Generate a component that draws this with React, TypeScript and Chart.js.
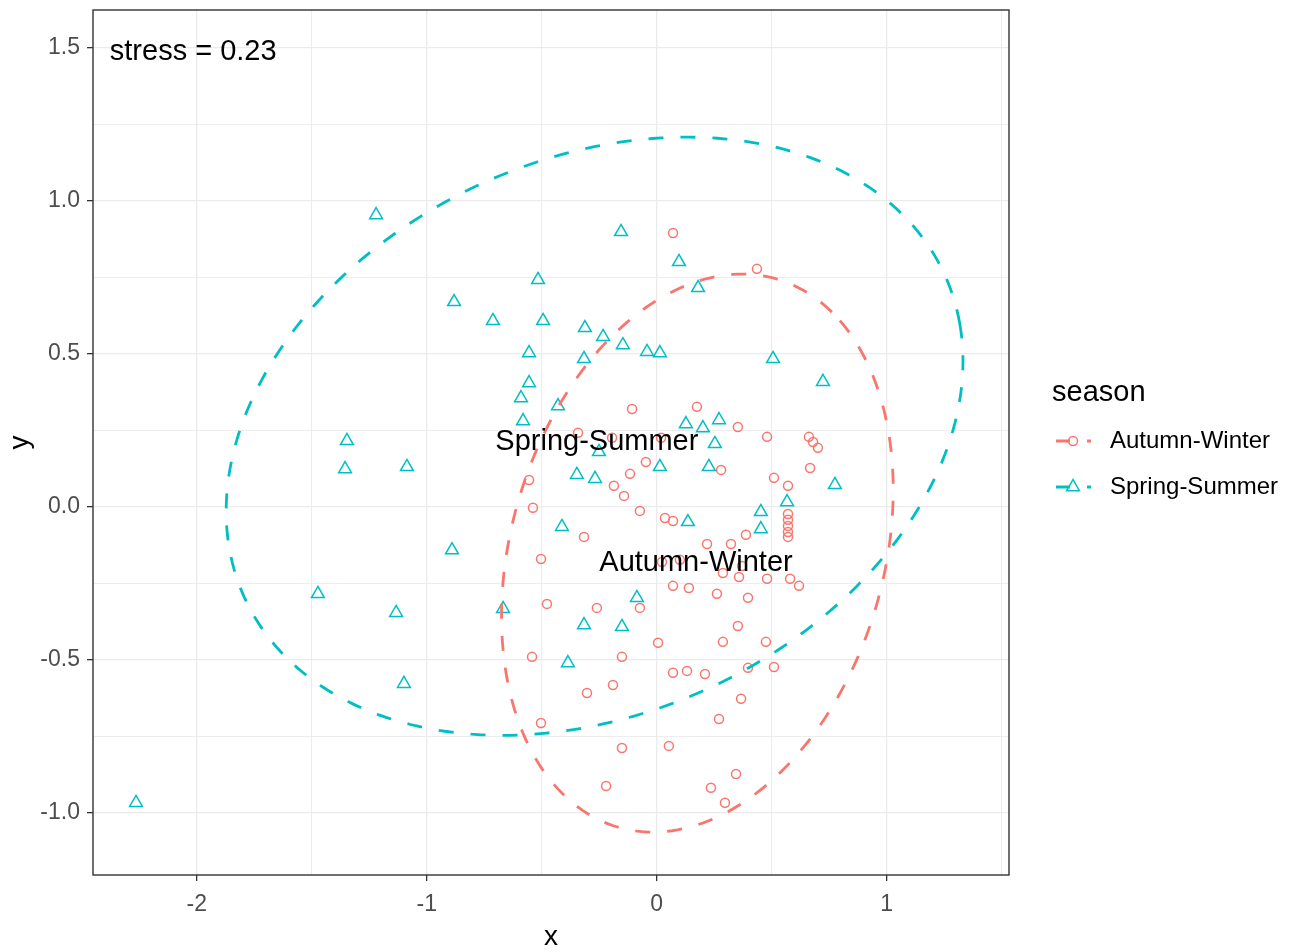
import React, { useEffect, useRef } from "react";
import { Chart, registerables } from "chart.js";

Chart.register(...registerables);

// ---------- data ----------
const seasons = ["Autumn-Winter", "Spring-Summer"];
const seasonColors = ["#F8766D", "#00BFC4"];

const autumnWinterX = [
  0.071, 0.436, -0.107, 0.175, 0.353, 0.48, 0.662, 0.68, 0.701, -0.342,
  0.019, -0.194, -0.047, -0.116, -0.186, -0.142, -0.555, -0.538, -0.073, 0.036,
  0.071, 0.28, 0.667, 0.51, 0.571, 0.571, 0.571, 0.571, 0.571, 0.571,
  0.388, -0.316, 0.219, 0.323, -0.503, 0.023, 0.101, 0.371, 0.288, 0.358,
  0.48, 0.58, 0.619, 0.071, 0.14, 0.262, 0.397, -0.477, -0.26, -0.073,
  0.353, 0.006, 0.288, 0.475, -0.542, -0.151, 0.51, 0.397, 0.071, 0.132,
  0.21, -0.19, -0.303, 0.367, 0.271, -0.503, -0.151, 0.053, 0.345, -0.22,
  0.236, 0.297,
];
const autumnWinterY = [
  0.894, 0.777, 0.319, 0.326, 0.26, 0.228, 0.228, 0.211, 0.192, 0.241,
  0.225, 0.225, 0.146, 0.107, 0.068, 0.035, 0.087, -0.004, -0.014, -0.037,
  -0.047, 0.12, 0.126, 0.094, 0.068, -0.024, -0.043, -0.063, -0.083, -0.099,
  -0.092, -0.099, -0.122, -0.122, -0.171, -0.181, -0.174, -0.194, -0.217, -0.23,
  -0.236, -0.236, -0.259, -0.259, -0.266, -0.285, -0.298, -0.318, -0.331, -0.331,
  -0.39, -0.445, -0.442, -0.442, -0.491, -0.491, -0.524, -0.527, -0.543, -0.537,
  -0.547, -0.583, -0.609, -0.628, -0.694, -0.707, -0.789, -0.782, -0.874, -0.913,
  -0.919, -0.968,
];

const springSummerX = [
  -1.22, -0.155, 0.097, 0.18, -0.516, -0.881, -0.712, -0.494, -0.312, -0.233,
  -0.147, -0.042, 0.014, -0.316, -0.555, 0.506, 0.723, -0.555, -0.59, -0.429,
  -0.581, 0.127, 0.201, 0.271, 0.253, -1.347, -1.355, -1.086, -0.251, 0.014,
  0.227, -0.347, -0.268, 0.775, 0.567, 0.453, 0.453, 0.136, -0.412, -0.89,
  -1.473, -0.668, -0.086, -1.133, -0.316, -0.151, -0.386, -1.099, -2.264,
];
const springSummerY = [
  0.953, 0.898, 0.8, 0.715, 0.741, 0.669, 0.607, 0.607, 0.584, 0.555,
  0.528, 0.506, 0.502, 0.483, 0.502, 0.483, 0.408, 0.404, 0.355, 0.329,
  0.28, 0.27, 0.257, 0.283, 0.205, 0.215, 0.123, 0.13, 0.179, 0.13,
  0.13, 0.104, 0.091, 0.071, 0.015, -0.017, -0.073, -0.05, -0.066, -0.142,
  -0.285, -0.334, -0.298, -0.347, -0.387, -0.393, -0.511, -0.579, -0.968,
];

// 95% ellipses (data units)
const ellipseCenterX = [0.177, -0.27];
const ellipseCenterY = [-0.152, 0.23];
const ellipseSemiMajor = [0.981, 1.63];
const ellipseSemiMinor = [0.771, 0.93];
const ellipseAngleDeg = [53.4, 13];

// group labels (data units)
const groupLabelX = [0.171, -0.26];
const groupLabelY = [-0.183, 0.21];

const stressLabel = "stress = 0.23";
const stressX = -2.378;
const stressY = 1.486;

const xLimits = [-2.451, 1.532];
const yLimits = [-1.204, 1.623];
const xBreaks = [-2, -1.5, -1, -0.5, 0, 0.5, 1, 1.5];
const xMajorBreaks = [-2, -1, 0, 1];
const xTickLabels = ["-2", "-1", "0", "1"];
const yBreaks = [-1, -0.75, -0.5, -0.25, 0, 0.25, 0.5, 0.75, 1, 1.25, 1.5];
const yMajorBreaks = [-1, -0.5, 0, 0.5, 1, 1.5];
const yTickLabels = ["-1.0", "-0.5", "0.0", "0.5", "1.0", "1.5"];

const FONT = "'Liberation Sans', Arial, sans-serif";

function ellipsePoints(i: number) {
  const pts: { x: number; y: number }[] = [];
  const n = 240;
  const th = (ellipseAngleDeg[i] * Math.PI) / 180;
  for (let k = 0; k <= n; k++) {
    const t = (2 * Math.PI * k) / n;
    const a = ellipseSemiMajor[i] * Math.cos(t);
    const b = ellipseSemiMinor[i] * Math.sin(t);
    pts.push({
      x: ellipseCenterX[i] + a * Math.cos(th) - b * Math.sin(th),
      y: ellipseCenterY[i] + a * Math.sin(th) + b * Math.cos(th),
    });
  }
  return pts;
}

function isIn(arr: number[], v: number) {
  return arr.some((a) => Math.abs(a - v) < 1e-9);
}

function drawMarker(ctx: CanvasRenderingContext2D, kind: number, x: number, y: number, color: string) {
  ctx.save();
  ctx.strokeStyle = color;
  ctx.lineWidth = 1.5;
  ctx.beginPath();
  if (kind === 0) {
    ctx.arc(x, y, 4.5, 0, Math.PI * 2);
  } else {
    const r = 7.4;
    ctx.moveTo(x, y - r);
    ctx.lineTo(x + r * Math.sin(Math.PI / 3), y + r * 0.5);
    ctx.lineTo(x - r * Math.sin(Math.PI / 3), y + r * 0.5);
    ctx.closePath();
  }
  ctx.stroke();
  ctx.restore();
}

const decorPlugin = {
  id: "decor",
  beforeDraw(chart: any) {
    const ctx = chart.ctx;
    ctx.save();
    ctx.fillStyle = "#FFFFFF";
    ctx.fillRect(0, 0, chart.width, chart.height);
    ctx.restore();
  },
  afterDatasetsDraw(chart: any) {
    const ctx: CanvasRenderingContext2D = chart.ctx;
    const xs = chart.scales.x;
    const ys = chart.scales.y;
    const area = chart.chartArea;
    ctx.save();
    // group labels
    ctx.fillStyle = "#000000";
    ctx.font = `29px ${FONT}`;
    ctx.textAlign = "center";
    ctx.textBaseline = "middle";
    for (let i = 0; i < seasons.length; i++) {
      ctx.fillText(seasons[i], xs.getPixelForValue(groupLabelX[i]), ys.getPixelForValue(groupLabelY[i]));
    }
    // stress annotation
    ctx.textAlign = "left";
    ctx.fillText(stressLabel, xs.getPixelForValue(stressX), ys.getPixelForValue(stressY));
    // panel border
    ctx.strokeStyle = "#333333";
    ctx.lineWidth = 1.4;
    ctx.strokeRect(area.left, area.top, area.right - area.left, area.bottom - area.top);
    // axis titles
    ctx.fillStyle = "#000000";
    ctx.font = `28px ${FONT}`;
    ctx.textAlign = "center";
    ctx.textBaseline = "middle";
    ctx.fillText("x", (area.left + area.right) / 2, 937);
    ctx.save();
    ctx.translate(20, (area.top + area.bottom) / 2);
    ctx.rotate(-Math.PI / 2);
    ctx.fillText("y", 0, 0);
    ctx.restore();
    // legend
    ctx.textAlign = "left";
    ctx.font = `29px ${FONT}`;
    ctx.fillText("season", 1052, 393);
    const rowY = [441, 487];
    for (let i = 0; i < seasons.length; i++) {
      const y = rowY[i];
      ctx.save();
      ctx.strokeStyle = seasonColors[i];
      ctx.lineWidth = 2.8;
      ctx.setLineDash([14, 17]);
      ctx.beginPath();
      ctx.moveTo(1056, y);
      ctx.lineTo(1091, y);
      ctx.stroke();
      ctx.restore();
      drawMarker(ctx, i, 1073, y, seasonColors[i]);
      ctx.fillStyle = "#000000";
      ctx.font = `24px ${FONT}`;
      ctx.textBaseline = "middle";
      ctx.fillText(seasons[i], 1110, y);
    }
    ctx.restore();
  },
};

export default function App() {
  const ref = useRef<HTMLCanvasElement | null>(null);
  useEffect(() => {
    if (!ref.current) return;
    const gridColor = "#EBEBEB";
    const chart = new Chart(ref.current, {
      type: "scatter",
      data: {
        datasets: [
          {
            label: seasons[1] + " ellipse",
            data: ellipsePoints(1),
            showLine: true,
            borderColor: seasonColors[1],
            borderWidth: 2.8,
            borderDash: [15, 17],
            pointRadius: 0,
            fill: false,
            tension: 0,
            order: 0,
          },
          {
            label: seasons[0] + " ellipse",
            data: ellipsePoints(0),
            showLine: true,
            borderColor: seasonColors[0],
            borderWidth: 2.8,
            borderDash: [15, 17],
            pointRadius: 0,
            fill: false,
            tension: 0,
            order: 1,
          },
          {
            label: seasons[1],
            data: springSummerX.map((x, i) => ({ x, y: springSummerY[i] })),
            pointStyle: "triangle",
            pointRadius: 7.4,
            borderWidth: 1.5,
            borderColor: seasonColors[1],
            backgroundColor: "rgba(0,0,0,0)",
            order: 2,
          },
          {
            label: seasons[0],
            data: autumnWinterX.map((x, i) => ({ x, y: autumnWinterY[i] })),
            pointStyle: "circle",
            pointRadius: 4.5,
            borderWidth: 1.5,
            borderColor: seasonColors[0],
            backgroundColor: "rgba(0,0,0,0)",
            order: 3,
          },
        ],
      },
      options: {
        animation: false,
        responsive: false,
        events: [],
        layout: { padding: { left: 0, top: 10, right: 283, bottom: 0 } },
        plugins: { legend: { display: false }, tooltip: { enabled: false } },
        scales: {
          x: {
            type: "linear",
            min: xLimits[0],
            max: xLimits[1],
            afterBuildTicks: (scale: any) => {
              scale.ticks = xBreaks.map((v) => ({ value: v }));
            },
            afterFit: (scale: any) => {
              scale.height = 77;
              scale.paddingLeft = 0;
              scale.paddingRight = 0;
            },
            border: { display: false },
            grid: {
              color: gridColor,
              lineWidth: (c: any) => (isIn(xMajorBreaks, c.tick?.value) ? 1.3 : 0.9),
              drawTicks: true,
              tickLength: 6,
              tickWidth: 1.3,
              tickColor: (c: any) => (isIn(xMajorBreaks, c.tick?.value) ? "#333333" : "rgba(0,0,0,0)"),
            },
            ticks: {
              autoSkip: false,
              maxRotation: 0,
              padding: 10,
              color: "#4D4D4D",
              font: { family: FONT, size: 23 },
              callback: (v: any) => {
                const k = xMajorBreaks.findIndex((b) => Math.abs(b - v) < 1e-9);
                return k >= 0 ? xTickLabels[k] : "";
              },
            },
          },
          y: {
            type: "linear",
            min: yLimits[0],
            max: yLimits[1],
            afterBuildTicks: (scale: any) => {
              scale.ticks = yBreaks.map((v) => ({ value: v }));
            },
            afterFit: (scale: any) => {
              scale.width = 93;
              scale.paddingTop = 0;
              scale.paddingBottom = 0;
            },
            border: { display: false },
            grid: {
              color: gridColor,
              lineWidth: (c: any) => (isIn(yMajorBreaks, c.tick?.value) ? 1.3 : 0.9),
              drawTicks: true,
              tickLength: 6,
              tickWidth: 1.3,
              tickColor: (c: any) => (isIn(yMajorBreaks, c.tick?.value) ? "#333333" : "rgba(0,0,0,0)"),
            },
            ticks: {
              autoSkip: false,
              padding: 7,
              color: "#4D4D4D",
              font: { family: FONT, size: 23 },
              callback: (v: any) => {
                const k = yMajorBreaks.findIndex((b) => Math.abs(b - v) < 1e-9);
                return k >= 0 ? yTickLabels[k] : "";
              },
            },
          },
        },
      },
      plugins: [decorPlugin],
    } as any);
    return () => chart.destroy();
  }, []);
  return (
    <div style={{ position: "fixed", left: 0, top: 0, width: 1292, height: 952, background: "#fff" }}>
      <canvas ref={ref} width={1292} height={952} style={{ display: "block", width: 1292, height: 952 }} />
    </div>
  );
}
